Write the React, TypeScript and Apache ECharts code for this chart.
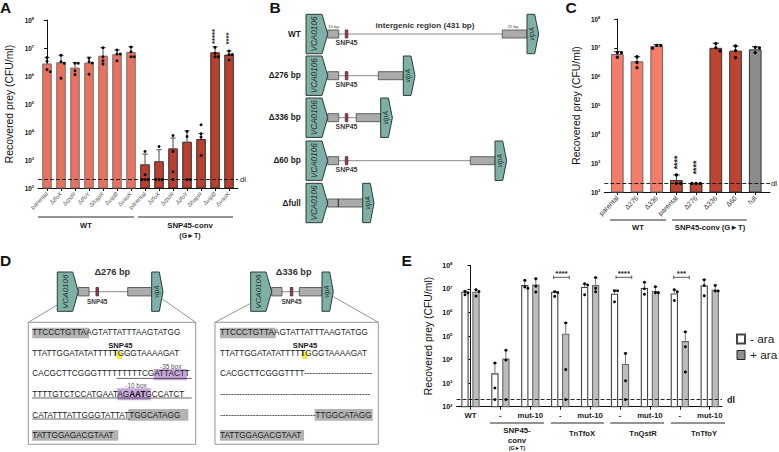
import React, { useEffect, useRef } from "react";
import * as echarts from "echarts";

const FONT = "Liberation Sans";

const aLabels = ["parental", "tfoX", "qstR", "tfoY", "hapR", "vipB", "vasK", "parental", "tfoX", "qstR", "tfoY", "hapR", "vipB", "vasK"];
const aMeans = [2.8e6, 3.1e6, 2.0e6, 3.0e6, 5.3e6, 6.0e6, 7.2e6, 700, 900, 2600, 4500, 5600, 7e6, 5.8e6];
const aTops = [4.6e6, 5.5e6, 3e6, 4.7e6, 1.03e7, 8.5e6, 1.1e7, 1630, 2320, 6100, 1.1e4, 8900, 1.1e7, 7.8e6];
const aDots = [
  [4.6e6, 3.35e6, 1.69e6, 1.43e6],
  [5.5e6, 3.2e6, 2.85e6, 8.3e5],
  [2.85e6, 2.85e6, 1.55e6, 1.12e6],
  [4.3e6, 3.2e6, 2.9e6, 1.15e6],
  [1.03e7, 4.9e6, 3.5e6, 2.7e6],
  [8.5e6, 6.1e6, 6.1e6, 3.5e6],
  [1.09e7, 7.4e6, 4.9e6, 4.9e6],
  [2030, 300, 200, 200, 200],
  [3050, 200, 200, 200],
  [7500, 2030, 380, 200],
  [1.05e4, 6900, 200, 200],
  [1.8e4, 8600, 6560, 1460],
  [1.05e7, 6.5e6, 4.9e6, 4.9e6],
  [7.8e6, 5.9e6, 5.9e6, 3.7e6],
];

const cLabels = ["parental", "Δ276", "Δ336", "parental", "Δ276", "Δ336", "Δ60", "full"];
const cMeans = [6.1e6, 3.4e6, 1.16e7, 260, 200, 1.0e7, 8e6, 8.9e6];
const cTops = [7.4e6, 4.9e6, 1.3e7, 390, 200, 1.45e7, 1.16e7, 1.1e7];
const cDots = [
  [6.8e6, 6.8e6, 4.7e6],
  [4.9e6, 3.1e6, 2.05e6],
  [1.22e7, 1.22e7, 9.6e6],
  [390, 200, 200],
  [200, 200, 200],
  [1.4e7, 1e7, 7.8e6],
  [1.16e7, 8e6, 4.6e6],
  [1.04e7, 1.0e7, 6.8e6],
];

const eLabels = ["WT", "-", "mut-10", "-", "mut-10", "-", "mut-10", "-", "mut-10"];
const eMinus = [7.6e6, 2600, 1.45e7, 7.6e6, 1.2e7, 6.2e6, 1.1e7, 6.4e6, 1.4e7];
const ePlus = [7.6e6, 1.1e4, 1.55e7, 1.25e5, 1.45e7, 6500, 8.1e6, 6.1e4, 9.1e6];
const eMinusTops = [8.3e6, 7100, 2.2e7, 8e6, 1.66e7, 8.8e6, 1.9e7, 9.5e6, 2.45e7];
const ePlusTops = [9.5e6, 2.5e4, 2.8e7, 3.7e5, 3e7, 1.9e4, 1.23e7, 1.5e5, 1.45e7];
const eMinusDots = [
  [7.8e6, 6.9e6, 5.6e6],
  [7100, 620, 200],
  [2.3e7, 1.2e7, 1.05e7],
  [7.6e6, 7e6, 4.8e6],
  [1.66e7, 1.45e7, 5.6e6],
  [8.3e6, 8.3e6, 2.85e6],
  [1.9e7, 1e7, 5.9e6],
  [9.2e6, 7.6e6, 3.2e6],
  [2.45e7, 1.4e7, 5.1e6],
];
const ePlusDots = [
  [9.2e6, 7.8e6, 5e6],
  [2.5e4, 9500, 200],
  [2.7e7, 1.3e7, 7.4e6],
  [3.6e5, 3800, 200],
  [3e7, 1.05e7, 7.6e6],
  [1.8e4, 1270, 200],
  [1.23e7, 6.9e6, 6.9e6],
  [1.5e5, 3.5e4, 2950],
  [1.4e7, 8.1e6, 8.1e6],
];

const DL = 200;
const TEAL = "#7FB0A6";
const GREY = "#ABABAB";

// lay the dots of one bar out as a swarm, in pixels
function swarm(values: number[], pxPerDecade: number, d: number) {
  const placed: { dx: number; py: number; v: number }[] = [];
  values.forEach((v) => {
    const py = Math.log10(v) * pxPerDecade;
    for (const dx of [0, d, -d, 2 * d]) {
      if (placed.every((p) => Math.hypot(p.dx - dx, p.py - py) >= d * 0.95)) {
        placed.push({ dx, py, v });
        return;
      }
    }
    placed.push({ dx: 0, py, v });
  });
  return placed;
}

function errSeries(name: string, gridIdx: number, data: number[][], color: string, cap: number, lw = 0.9) {
  return {
    type: "custom",
    name,
    xAxisIndex: gridIdx,
    yAxisIndex: gridIdx,
    z: 5,
    silent: true,
    clip: false,
    data,
    encode: { x: 0, y: 2 },
    renderItem: (_p: any, api: any) => {
      const a = api.coord([api.value(0), api.value(1)]);
      const b = api.coord([api.value(0), api.value(2)]);
      if (Math.abs(a[1] - b[1]) < 0.5) return { type: "group", children: [] };
      const style = { stroke: color, lineWidth: lw, fill: "none" };
      return {
        type: "group",
        children: [
          { type: "line", shape: { x1: a[0], y1: a[1], x2: b[0], y2: b[1] }, style },
          { type: "line", shape: { x1: b[0] - cap, y1: b[1], x2: b[0] + cap, y2: b[1] }, style },
        ],
      };
    },
  };
}

function dotSeries(gridIdx: number, data: number[][], size: number) {
  return {
    type: "scatter",
    xAxisIndex: gridIdx,
    yAxisIndex: gridIdx,
    z: 6,
    silent: true,
    symbolSize: size,
    itemStyle: { color: "#000", opacity: 1 },
    data,
  };
}

const dlLine = () => ({
  silent: true,
  symbol: "none",
  animation: false,
  lineStyle: { type: [4, 2], color: "#111", width: 0.9 },
  label: { show: false },
  data: [{ yAxis: DL }],
});

function yAxis(gridIdx: number, fs: number, gap: number) {
  return {
    type: "log",
    gridIndex: gridIdx,
    min: 100,
    max: 1e8,
    logBase: 10,
    name: "Recovered prey (CFU/ml)",
    nameLocation: "middle",
    nameGap: gap,
    nameTextStyle: { fontSize: 10.4, color: "#111", fontFamily: FONT },
    axisLine: { show: true, lineStyle: { color: "#111", width: 1 } },
    axisTick: { show: true, length: 3, lineStyle: { color: "#111", width: 1 } },
    minorTick: { show: false },
    splitLine: { show: false },
    axisLabel: {
      margin: 4,
      color: "#111",
      fontFamily: FONT,
      formatter: (v: number) => `{b|10}{s|${Math.round(Math.log10(v))}}`,
      rich: {
        b: { fontSize: fs, fontFamily: FONT, color: "#111", fontWeight: "bold" },
        s: { fontSize: fs * 0.62, fontFamily: FONT, color: "#111", verticalAlign: "top", fontWeight: "bold", padding: [0, 0, 3, 0] },
      },
    },
  };
}

function xAxis(gridIdx: number, min: number, max: number, n: number, label: any) {
  const vals = Array.from({ length: n }, (_, i) => i);
  return {
    type: "value",
    gridIndex: gridIdx,
    min,
    max,
    splitLine: { show: false },
    axisLine: { show: true, onZero: false, lineStyle: { color: "#111", width: 1 } },
    axisTick: { show: true, length: 3, customValues: vals, lineStyle: { color: "#111", width: 1 } },
    axisLabel: { customValues: vals, fontFamily: FONT, hideOverlap: false, showMinLabel: true, showMaxLabel: true, ...label },
  };
}

function text(t: string, x: number, y: number, fs: number, o: any = {}) {
  const { rotation, ...st } = o;
  return {
    type: "text",
    x,
    y,
    rotation: rotation || 0,
    silent: true,
    z: 20,
    style: { text: t, x: 0, y: 0, fontSize: fs, fontFamily: FONT, fill: "#1a1a1a", align: "center", verticalAlign: "middle", ...st },
  };
}
const rect = (x1: number, y1: number, x2: number, y2: number, fill: string, stroke = "none", z = 10) => ({
  type: "rect",
  silent: true,
  z,
  shape: { x: x1, y: y1, width: x2 - x1, height: y2 - y1 },
  style: { fill, stroke, lineWidth: stroke === "none" ? 0 : 0.9 },
});
const line = (x1: number, y1: number, x2: number, y2: number, stroke = "#111", lineWidth = 0.9, z = 10) => ({
  type: "line",
  silent: true,
  z,
  shape: { x1, y1, x2, y2 },
  style: { stroke, lineWidth },
});
const gene = (x0: number, x1: number, x2: number, y0: number, y1: number, label: string, fs: number) => {
  const m = (y0 + y1) / 2;
  return [
    {
      type: "polygon",
      silent: true,
      z: 11,
      shape: { points: [[x0, y0], [x1, y0], [x2, m], [x1, y1], [x0, y1]] },
      style: { fill: TEAL, stroke: "#2c3a38", lineWidth: 1 },
    },
    text(label, x0 + (x1 - x0) / 2 + 0.5, m, fs, { rotation: Math.PI / 2, fontStyle: "italic", fill: "#26332f" }),
  ];
};

function schematicRow(yc: number, h: number, xStart: number, snp: number | null, grayEndL: number, grayStartR: number, vip: number, snpFs: number, snpDy: number) {
  const els: any[] = [];
  els.push(line(grayEndL, yc, grayStartR, yc, "#8a8a8a", 1));
  els.push(rect(xStart, yc - h, grayEndL, yc + h, GREY, "#555"));
  els.push(rect(grayStartR, yc - h, vip, yc + h, GREY, "#555"));
  if (snp !== null) {
    els.push(rect(snp, yc - h, snp + 2.5, yc + h, "#8E3E55", "#5a3040"));
    els.push(text("SNP45", snp + 1.2, yc + snpDy, snpFs, { fontWeight: "bold", fill: "#3a3a3a" }));
  }
  return els;
}

const rowsB: any[] = [];
[
  { y: 34, label: "WT", r: 502.3, v: 527, snp: 345.3 },
  { y: 75.7, label: "Δ276 bp", r: 378.3, v: 403.3, snp: 345.3 },
  { y: 117.7, label: "Δ336 bp", r: 356.3, v: 380.7, snp: 345.3 },
  { y: 160.7, label: "Δ60 bp", r: 470.3, v: 495, snp: 345.3 },
].forEach((row) => {
  rowsB.push(...schematicRow(row.y, 4, 327.7, row.snp, 338.7, row.r, row.v, 6.9, 8.8));
  rowsB.push(...gene(306, 322, 327.7, row.y - 19.7, row.y + 19.7, "VCA0106", 8.2));
  rowsB.push(...gene(row.v, row.v + 7.7, row.v + 11.7, row.y - 19.7, row.y + 19.7, "vipA", 7));
  rowsB.push(text(row.label, 300.7, row.y, 8.2, { align: "right", fontWeight: "bold" }));
});
rowsB.push(rect(327.7, 199, 362.7, 207, GREY, "#555"));
rowsB.push(line(338.3, 199, 338.3, 207, "#222", 1));
rowsB.push(...gene(306, 322, 327.7, 183.3, 222.7, "VCA0106", 8.2));
rowsB.push(...gene(362.7, 370.3, 374, 183.3, 222.7, "vipA", 7));
rowsB.push(text("Δfull", 300.7, 203, 8.2, { align: "right", fontWeight: "bold" }));
rowsB.push(text("10 bp", 333.7, 26.7, 4.3, { fill: "#444" }));
rowsB.push(text("25 bp", 513, 26.7, 4.3, { fill: "#444" }));
rowsB.push(text("intergenic region (431 bp)", 425, 25, 8.1, { fontWeight: "bold", fill: "#333" }));

const ROWS = [332.7, 353, 373.7, 394, 415, 435];
const HG = "#B3B3B3";
const PURPLE = "#C5A6D9";
const YEL = "#F5EA48";
const seqFs = 8.2;
const seqRich = { b: { fontWeight: "bold", fontSize: seqFs, fontFamily: FONT, fill: "#111" }, n: { fontSize: seqFs, fontFamily: FONT, fill: "#222" } };
const seq = (t: string, x: number, y: number) => text(t, x, y, seqFs, { align: "left", fill: "#222" });
const seqR = (t: string, x: number, y: number) => ({
  type: "text",
  x,
  y,
  silent: true,
  z: 20,
  style: { text: t, x: 0, y: 0, fontSize: seqFs, fontFamily: FONT, fill: "#222", align: "left", verticalAlign: "middle", rich: seqRich },
});

const panelD: any[] = [
  // Δ276 schematic
  ...schematicRow(291.7, 4.2, 78.3, 96, 89, 127.7, 151.7, 6.4, 9.3),
  ...gene(57.3, 72.7, 78.3, 272, 311.3, "VCA0106", 8),
  ...gene(151.7, 159.3, 163, 272, 311.3, "vipA", 6.4),
  text("Δ276 bp", 112.3, 272.3, 9.2, { fontWeight: "bold", fill: "#333" }),
  line(57.3, 305, 28.3, 322.3, "#8a8a8a", 0.9),
  line(162.3, 299, 195.7, 322.3, "#8a8a8a", 0.9),
  rect(28.3, 322.3, 195.7, 444.3, "#fff", "#8a8a8a", 5),
  rect(32.3, 327.7, 89, 338.3, HG),
  rect(116.3, 351.7, 122, 359, YEL),
  rect(153.7, 369, 187, 380.3, PURPLE),
  rect(117.3, 388.3, 150.7, 400.3, PURPLE),
  rect(128.3, 409, 188.3, 420.7, HG),
  rect(32.3, 430, 118.3, 440.7, HG),
  line(116.7, 378.4, 191.7, 378.4, "#222", 0.7, 21),
  line(32.3, 398, 191.7, 398, "#222", 0.7, 21),
  line(32.3, 419, 130, 419, "#222", 0.7, 21),
  seq("TTCCCTGTTAAGTATTATTTAAGTATGG", 32.3, ROWS[0]),
  seqR("{n|TTATTGGATATATTTT}{b|T}{n|GGGTAAAAGAT}", 32.3, ROWS[1]),
  seq("CACGCTTCGGGTTTTTTTTTCGATTACTT", 32.3, ROWS[2]),
  seqR("{n|TTTTGTCTCCATGAATAG}{b|AAT}{n|GCCATCT}", 32.3, ROWS[3]),
  seq("CATATTTATTGGGTATTATTGGCATAGG", 32.3, ROWS[4]),
  seq("TATTGGAGACGTAAT", 32.3, ROWS[5]),
  text("SNP45", 120.3, 345.3, 7.7, { fontWeight: "bold" }),
  text("-35 box", 170.7, 366, 6.4, { fill: "#555" }),
  text("-10 box", 136, 385.7, 6.4, { fill: "#555" }),
  // Δ336 schematic
  ...schematicRow(291.7, 4.2, 271.7, 290.3, 282, 299.3, 322, 6.4, 9.3),
  ...gene(250.7, 266, 271.7, 272, 311.3, "VCA0106", 8),
  ...gene(322, 329.7, 333.3, 272, 311.3, "vipA", 6.4),
  text("Δ336 bp", 293.7, 272.3, 9.2, { fontWeight: "bold", fill: "#333" }),
  line(250.7, 303.3, 215, 322.3, "#8a8a8a", 0.9),
  line(333.3, 296.7, 378.3, 322.3, "#8a8a8a", 0.9),
  rect(215, 322.3, 378.3, 444.3, "#fff", "#8a8a8a", 5),
  rect(220, 327.7, 275.7, 338.3, HG),
  rect(302, 351.7, 307.7, 359, YEL),
  rect(314.7, 409, 372.7, 420.7, HG),
  rect(220, 430, 304, 440.7, HG),
  seq("TTCCCTGTTAAGTATTATTTAAGTATGG", 220, ROWS[0]),
  seqR("{n|TTATTGGATATATTTT}{b|T}{n|GGGTAAAAGAT}", 220, ROWS[1]),
  seq("CACGCTTCGGGTTTT" + "-".repeat(25), 220, ROWS[2]),
  seq("-".repeat(55), 220, ROWS[3]),
  seq("-".repeat(35) + "TTGGCATAGG", 220, ROWS[4]),
  seq("TATTGGAGACGTAAT", 220, ROWS[5]),
  text("SNP45", 305, 345.3, 7.7, { fontWeight: "bold" }),
];

const panelLetters = [
  ["A", 5.5, 7],
  ["B", 275, 7],
  ["C", 571, 7],
  ["D", 5.5, 260],
  ["E", 406.7, 260],
].map(([t, x, y]) => text(t as string, x as number, y as number, 15.5, { fontWeight: "bold", fill: "#111" }));

const groupLabels: any[] = [
  line(38, 217, 134, 217),
  line(138, 217, 233, 217),
  text("WT", 86, 225, 7.6, { fontWeight: "bold" }),
  text("SNP45-conv", 190, 225, 7.8, { fontWeight: "bold" }),
  text("(G►T)", 190, 235, 7, { fontWeight: "bold" }),
  line(610, 220, 666, 220),
  line(672, 220, 746.7, 220),
  text("WT", 638, 227, 7.6, { fontWeight: "bold" }),
  text("SNP45-conv (G►T)", 710, 227, 7.7, { fontWeight: "bold" }),
  line(490, 423, 544, 423),
  line(551, 423, 604, 423),
  line(610.3, 423, 664, 423),
  line(671, 423, 725, 423),
  text("SNP45-", 517, 430.3, 7.8, { fontWeight: "bold" }),
  text("conv", 517, 440.7, 7.8, { fontWeight: "bold" }),
  text("(G►T)", 517, 448, 5.4, { fontWeight: "bold" }),
  text("TnTfoX", 582, 433.3, 7.6, { fontWeight: "bold" }),
  text("TnQstR", 643, 433.3, 7.6, { fontWeight: "bold" }),
  text("TnTfoY", 704, 433.3, 7.6, { fontWeight: "bold" }),
  text("dl", 243, 179.6, 7.5),
  text("dl", 774, 183.3, 8),
  text("dl", 731, 399.6, 9, { fontWeight: "bold" }),
];

const brackets: any[] = [];
[[553.7, 569.3, "****"], [616, 631.7, "****"], [673.7, 689.3, "***"]].forEach(([a, b, s]) => {
  const x1 = a as number;
  const x2 = b as number;
  brackets.push(line(x1, 277.3, x2, 277.3, "#333", 0.8));
  brackets.push(line(x1, 275.6, x1, 279, "#333", 0.8));
  brackets.push(line(x2, 275.6, x2, 279, "#333", 0.8));
  brackets.push(text(s as string, (x1 + x2) / 2, 273.5, 8, { fontWeight: "bold" }));
});
const stars = [
  text("*****", 214.7, 36.5, 7.7, { rotation: Math.PI / 2, fontWeight: "bold" }),
  text("****", 228.3, 38.5, 7.7, { rotation: Math.PI / 2, fontWeight: "bold" }),
  text("****", 676.7, 162.5, 8.8, { rotation: Math.PI / 2, fontWeight: "bold" }),
  text("****", 696.3, 167.5, 8.8, { rotation: Math.PI / 2, fontWeight: "bold" }),
];

export default function App() {
  const ref = useRef<HTMLDivElement>(null);
  useEffect(() => {
    document.body.style.margin = "0";
    const chart = echarts.init(ref.current!, null, { renderer: "svg" });

    const aBars = aMeans.map((v, i) => ({
      value: [i, v],
      itemStyle: i < 7 ? { color: "#E8715F", borderColor: "#6b6b6b", borderWidth: 0.9 } : { color: "#B9402F", borderColor: "#222", borderWidth: 0.9 },
    }));
    const aDotData: number[][] = [];
    aDots.forEach((vals, i) => swarm(vals, 28, 3.3).forEach((p) => aDotData.push([i + p.dx / 14, p.v])));

    const cColors = ["#F47C68", "#F47C68", "#F47C68", "#BE4432", "#BE4432", "#BE4432", "#BE4432", "#8C8C8C"];
    const cBars = cMeans.map((v, i) => ({
      value: [i, v],
      itemStyle: { color: cColors[i], borderColor: i < 3 ? "#666" : "#333", borderWidth: 1 },
    }));
    const cDotData: number[][] = [];
    cDots.forEach((vals, i) => swarm(vals, 28.8, 4.2).forEach((p) => cDotData.push([i + p.dx / 19.7, p.v])));

    const off = 5.5 / 29.9;
    const eDotData: number[][] = [];
    eMinusDots.forEach((vals, i) => swarm(vals, 23.6, 3).forEach((p) => eDotData.push([i - off + p.dx / 29.9, p.v])));
    ePlusDots.forEach((vals, i) => swarm(vals, 23.6, 3).forEach((p) => eDotData.push([i + off + p.dx / 29.9, p.v])));

    const option: any = {
      animation: false,
      backgroundColor: "#fff",
      textStyle: { fontFamily: FONT },
      grid: [
        { left: 38, top: 20, width: 200, height: 168 },
        { left: 604.3, top: 19, width: 165.7, height: 173 },
        { left: 456.5, top: 265.3, width: 265.5, height: 141.4 },
      ],
      xAxis: [
        xAxis(0, -0.643, 13.64, 14, {
          rotate: 45,
          margin: 5,
          color: "#555",
          interval: 0,
          formatter: (v: number) => (aLabels[v] === "parental" ? `{n|parental}` : `{n|Δ}{i|${aLabels[v]}}`),
          rich: { n: { fontSize: 6, color: "#555", fontFamily: FONT }, i: { fontSize: 6, color: "#555", fontStyle: "italic", fontFamily: FONT } },
        }),
        xAxis(1, -0.66, 7.75, 8, {
          rotate: 45,
          margin: 5,
          color: "#333",
          fontSize: 6.8,
          formatter: (v: number) => cLabels[v],
        }),
        xAxis(2, -0.468, 8.41, 9, {
          margin: 5,
          color: "#222",
          fontSize: 7.8,
          fontWeight: "bold",
          formatter: (v: number) => eLabels[v],
        }),
      ],
      yAxis: [yAxis(0, 6.4, 24), yAxis(1, 6.4, 23), yAxis(2, 7, 23)],
      legend: {
        left: 736,
        top: 333,
        padding: 0,
        orient: "vertical",
        itemWidth: 8,
        itemHeight: 9,
        itemGap: 4,
        textStyle: { fontSize: 11.8, color: "#222", fontFamily: FONT },
        data: [
          { name: "- ara", icon: "rect" },
          { name: "+ ara", icon: "rect", itemStyle: { color: "#8f8f8f", borderColor: "#222", borderWidth: 1 } },
        ],
      },
      series: [
        { type: "bar", name: "A", xAxisIndex: 0, yAxisIndex: 0, barWidth: 9.5, data: aBars, markLine: dlLine(), z: 2 },
        errSeries("A err", 0, aMeans.map((v, i) => [i, v, aTops[i]]), "#333", 2.6),
        dotSeries(0, aDotData, 2.9),
        { type: "bar", name: "C", xAxisIndex: 1, yAxisIndex: 1, barWidth: 12.7, data: cBars, markLine: dlLine(), z: 2 },
        errSeries("C err", 1, cMeans.map((v, i) => [i, v, cTops[i]]), "#222", 3.2),
        dotSeries(1, cDotData, 3.3),
        {
          type: "bar",
          name: "- ara",
          xAxisIndex: 2,
          yAxisIndex: 2,
          barWidth: 7.3,
          barGap: "-100%",
          data: eMinus.map((v, i) => [i - off, v]),
          itemStyle: { color: "#fff", borderColor: "#444", borderWidth: 1.1 },
          markLine: dlLine(),
          z: 2,
        },
        {
          type: "bar",
          name: "+ ara",
          xAxisIndex: 2,
          yAxisIndex: 2,
          barWidth: 7.3,
          barGap: "-100%",
          data: ePlus.map((v, i) => [i + off, v]),
          itemStyle: { color: "#BDBDBD", borderColor: "#666", borderWidth: 1.1 },
          z: 2,
        },
        errSeries("E err -", 2, eMinus.map((v, i) => [i - off, v, eMinusTops[i]]), "#777", 2, 1),
        errSeries("E err +", 2, ePlus.map((v, i) => [i + off, v, ePlusTops[i]]), "#777", 2, 1),
        dotSeries(2, eDotData, 2.9),
      ],
      graphic: { elements: [...rowsB, ...panelD, ...panelLetters, ...groupLabels, ...brackets, ...stars] },
    };
    chart.setOption(option);
    return () => chart.dispose();
  }, []);
  return <div ref={ref} style={{ position: "fixed", left: 0, top: 0, width: 779, height: 452, background: "#fff" }} />;
}
